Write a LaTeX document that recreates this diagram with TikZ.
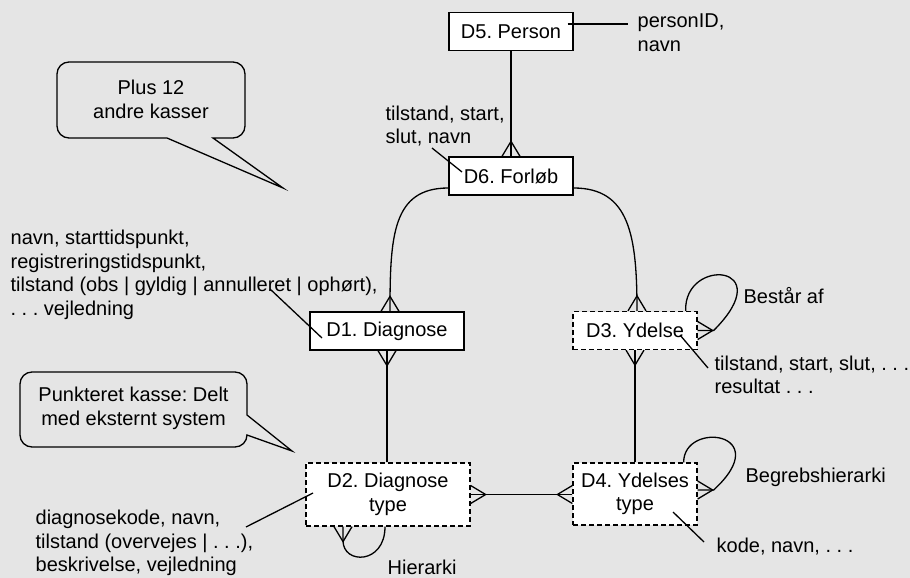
\documentclass[tikz,border=0pt]{standalone}
\usepackage{fontspec}
\setmainfont{Liberation Sans}
\usepackage{tikz}
\definecolor{bgcol}{HTML}{E5E5E5}

\begin{document}
\begin{tikzpicture}[x=1pt,y=-1pt,line width=1.3pt]
\tikzstyle{every node}+=[font=\fontsize{20}{23.5}\selectfont\frenchspacing]
\tikzset{
  entity/.style={draw,fill=white,minimum width=124pt,minimum height=38pt,inner sep=0pt,align=center},
  shared/.style={entity,dash pattern=on 5pt off 3pt},
  note/.style={inner sep=0pt,align=left,anchor=west},
  crowfoot/.pic={\draw (0,9) -- (15,0) -- (0,-9);}
}
\fill [bgcol] (0,0) rectangle (910,578);
\draw (69,62) -- (233,62) arc [start angle=-90,end angle=0,radius=12] -- (245,126) arc [start angle=0,end angle=90,radius=12] -- (213,138) -- (283,188) -- (167,138) -- (69,138) arc [start angle=90,end angle=180,radius=12] -- (57,74) arc [start angle=180,end angle=270,radius=12] -- cycle;
\node [align=center] (plus) at (151,99.5) {Plus 12\\andre kasser};
\draw (32,372) -- (235,372) arc [start angle=-90,end angle=0,radius=12] -- (247,415) -- (292,451) -- (247,435) arc [start angle=0,end angle=90,radius=12] -- (32,447) arc [start angle=90,end angle=180,radius=12] -- (20,384) arc [start angle=180,end angle=270,radius=12] -- cycle;
\node [align=center] (punkt) at (133.5,408.5) {Punkteret kasse: Delt\\med eksternt system};
\node [entity] (d5) at (511,31.5) {D5. Person};
\node [entity] (d6) at (511,176) {D6. Forløb};
\node [entity,minimum width=154pt] (d1) at (387,331) {D1. Diagnose};
\node [shared] (d3) at (635,330.5) {D3. Ydelse};
\node [shared,minimum width=164pt,minimum height=63pt] (d2) at (388,494.5) {D2. Diagnose\\type};
\node [shared,minimum height=62pt] (d4) at (635,494) {D4. Ydelses\\type};
\node [note] (n5) at (637,32.5) {personID,\\navn};
\node [note] (n6) at (385,126) {tilstand, start,\\slut, navn};
\node [note] (n1) at (10,275) {navn, starttidspunkt,\\registreringstidspunkt,\\tilstand (obs | gyldig | annulleret | ophørt),\\. . . vejledning};
\node [note] (n3) at (714,375) {tilstand, start, slut, . . .\\resultat . . .};
\node [note] (n2) at (35,543) {diagnosekode, navn,\\tilstand (overvejes | . . .),\\beskrivelse, vejledning};
\node [note] (n4) at (716,547) {kode, navn, . . .};
\node [note] (l3) at (743,296) {Består af};
\node [note] (l4) at (745,477) {Begrebshierarki};
\node [note] (l2) at (387,567.5) {Hierarki};
\draw (d5) -- (d6);
\pic [rotate=90] at (d6.north) {crowfoot};
\draw ([yshift=-12pt]d6.west) .. controls +(-56,0) and +(0,-75) .. ([xshift=3pt]d1.north);
\pic [rotate=90] at ([xshift=3pt]d1.north) {crowfoot};
\draw ([yshift=-12pt]d6.east) .. controls +(56,0) and +(0,-75) .. ([xshift=2pt]d3.north);
\pic [rotate=90] at ([xshift=2pt]d3.north) {crowfoot};
\draw (d1.south) -- (d1.south |- d2.north);
\pic [rotate=270] at (d1.south) {crowfoot};
\draw (d3) -- (d4);
\pic [rotate=270] at (d3.south) {crowfoot};
\draw (d2.east) -- (d2.east -| d4.west);
\pic at (d2.east) {crowfoot};
\pic [rotate=180] at (d2.east -| d4.west) {crowfoot};
\draw ([xshift=-12pt]d3.north east) .. controls +(-2,-54) and +(67,-67) .. ([xshift=16pt]d3.east) -- (d3.east);
\pic at (d3.east) {crowfoot};
\draw ([xshift=-14pt]d4.north east) .. controls +(0,-42) and +(63,-58) .. ([shift={(16,-4)}]d4.east) -- ([yshift=4pt]d4.east);
\pic at ([yshift=4pt]d4.east) {crowfoot};
\draw ([xshift=-45pt]d2.south) -- ++(0,14) .. controls +(0,24) and +(0,38) .. ([xshift=-3pt]d2.south);
\pic [rotate=270] at ([xshift=-45pt]d2.south) {crowfoot};
\draw ([shift={(-6,-7.5)}]d5.east) -- ([shift={(-9,-8.5)}]n5.west);
\draw ([shift={(47,22)}]n6.west) -- ([shift={(-49,-4)}]d6.center);
\draw ([shift={(260,14)}]n1.west) -- ([shift={(-65,7)}]d1.center);
\draw ([shift={(45,4.5)}]d3.center) -- ([shift={(-6,-7)}]n3.west);
\draw ([shift={(-75,-1.5)}]d2.center) -- ([shift={(211,-16)}]n2.west);
\draw ([shift={(38,18)}]d4.center) -- ([shift={(-12,-5)}]n4.west);
\end{tikzpicture}
\end{document}
